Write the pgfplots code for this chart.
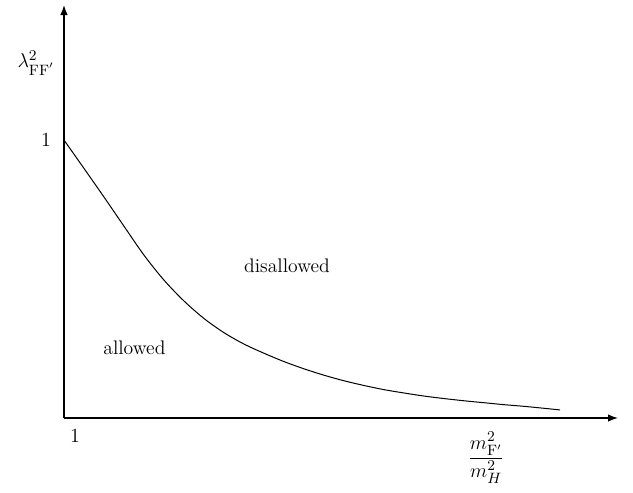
\documentclass[border=0pt,11pt]{standalone}
\usepackage{amsmath}
\usepackage{pgfplots}
\pgfplotsset{compat=1.18}
\usetikzlibrary{arrows.meta}
\begin{document}
\begin{tikzpicture}[every node/.style={font=\fontsize{11.8}{14}\selectfont}]
    \begin{axis}[
        scale only axis,
        width=332.4pt, height=247.8pt,
        clip=false,
        axis x line=bottom, axis y line=left,
        axis line style={line width=0.8pt, -{Latex[length=6pt,width=4.5pt]}},
        xmin=1, xmax=6.54,
        ymin=0, ymax=1.486,
        xtick={1}, ytick={1},
        major tick length=0pt,
        tick label style={font=\fontsize{11.8}{14}\selectfont},
        xticklabel style={xshift=6.6pt, yshift=-3pt},
        yticklabel style={xshift=-4pt},
    ]
    \addplot [black, line width=0.6pt, smooth] coordinates {
        (1.0,1.000) (1.2,0.898) (1.4,0.795) (1.6,0.690) (1.8,0.586)
        (2.0,0.496) (2.2,0.421) (2.4,0.358) (2.6,0.307) (2.8,0.266)
        (3.0,0.233) (3.2,0.203) (3.4,0.177) (3.6,0.154) (3.8,0.134)
        (4.0,0.117) (4.2,0.102) (4.4,0.090) (4.6,0.079) (4.8,0.070)
        (5.0,0.062) (5.2,0.055) (5.4,0.048) (5.6,0.042) (5.8,0.035)
        (5.96,0.029)
    };
    \node at (axis cs:3.23,0.547) {disallowed};
    \node at (axis cs:1.704,0.254) {allowed};
    \node[font=\fontsize{13}{15}\selectfont] at (rel axis cs:0,0.86) [xshift=-16.8pt] {$\lambda^2_{\mathrm{FF}'}$};
    \node[font=\fontsize{13}{15}\selectfont] at (rel axis cs:0.762,0) [yshift=-24pt] {$\dfrac{m^2_{\mathrm{F}'}}{m^2_H}$};
    \end{axis}
    \pgfresetboundingbox
    \path (-38.4pt,-44.4pt) rectangle (341.4pt,250.8pt);
\end{tikzpicture}
\end{document}
